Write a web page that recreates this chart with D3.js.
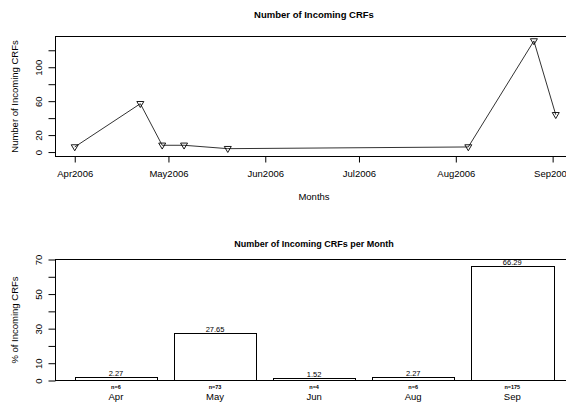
<!DOCTYPE html>
<html>
<head>
<meta charset="utf-8">
<script src="https://cdn.jsdelivr.net/npm/d3@7"></script>
<style>
  html, body { margin: 0; padding: 0; background: #fff; }
  svg { display: block; font-family: "Liberation Sans", Arial, Helvetica, sans-serif; }
</style>
</head>
<body>
<svg id="chart" width="566" height="405"></svg>
<script>
// Incoming CRFs over time (dates of arrival and counts)
const arrivalDates = ["2006-04-01", "2006-04-22", "2006-04-29", "2006-05-06",
                      "2006-05-20", "2006-08-05", "2006-08-26", "2006-09-02"];
const arrivalCounts = [6, 57, 8, 8, 4, 6, 131, 44];
const monthTicks = ["2006-04-01", "2006-05-01", "2006-06-01", "2006-07-01", "2006-08-01", "2006-09-01"];
const countTicks = [0, 20, 40, 60, 80, 100, 120];
const countTickLabels = [0, 20, 60, 100];

// Monthly share of incoming CRFs
const months = ["Apr", "May", "Jun", "Aug", "Sep"];
const monthPct = [2.27, 27.65, 1.52, 2.27, 66.29];
const monthN = [6, 73, 4, 6, 175];
const pctTicks = [0, 10, 20, 30, 40, 50, 60, 70];
const pctTickLabels = [0, 10, 30, 50, 70];

const svg = d3.select("#chart");
const parse = d3.utcParse("%Y-%m-%d");

// ---------- Top panel: line with down-triangle markers ----------
const dates = arrivalDates.map(parse);
const dMin = d3.min(dates), dMax = d3.max(dates);
const pad = (dMax - dMin) * 0.04;
const xTop = d3.scaleUtc()
  .domain([new Date(+dMin - pad), new Date(+dMax + pad)])
  .range([55.5, 575]);
const yMax = d3.max(arrivalCounts);
const yTop = d3.scaleLinear()
  .domain([-0.04 * yMax, yMax * 1.04])
  .range([156.5, 36.5]);

const topPanel = svg.append("g");
topPanel.append("text")
  .attr("x", 314).attr("y", 17.5)
  .attr("text-anchor", "middle")
  .attr("font-weight", "bold").attr("font-size", 9.5)
  .text("Number of Incoming CRFs");

topPanel.append("rect")
  .attr("x", 55.5).attr("y", 36.5)
  .attr("width", 575 - 55.5).attr("height", 156.5 - 36.5)
  .attr("fill", "none").attr("stroke", "#000");

const line = d3.line()
  .x((d, i) => xTop(dates[i]))
  .y(d => yTop(d));
topPanel.append("path")
  .datum(arrivalCounts)
  .attr("d", line)
  .attr("fill", "none").attr("stroke", "#333").attr("stroke-width", 1);

topPanel.selectAll("path.mark")
  .data(arrivalCounts)
  .join("path")
  .attr("class", "mark")
  .attr("transform", (d, i) => `translate(${xTop(dates[i])},${yTop(d)})`)
  .attr("d", "M-3.5,-2.2L3.5,-2.2L0,3.8Z")
  .attr("fill", "none").attr("stroke", "#000").attr("stroke-width", 0.9);

const xAxisTop = topPanel.append("g")
  .attr("transform", "translate(0,156.5)")
  .call(d3.axisBottom(xTop)
    .tickValues(monthTicks.map(parse))
    .tickSize(6)
    .tickFormat(d3.utcFormat("%b%Y")));
xAxisTop.select(".domain").remove();
xAxisTop.selectAll("text").attr("y", 13.5).attr("font-size", 9.5).attr("font-family", null);

const yAxisTop = topPanel.append("g")
  .attr("transform", "translate(55.5,0)")
  .call(d3.axisLeft(yTop)
    .tickValues(countTicks)
    .tickSize(7)
    .tickFormat(d => countTickLabels.includes(d) ? d : ""));
yAxisTop.select(".domain").remove();
yAxisTop.selectAll("text")
  .attr("x", null).attr("dy", null)
  .attr("text-anchor", "middle")
  .attr("transform", "translate(-14,0) rotate(-90)")
  .attr("font-size", 9.5).attr("font-family", null);

topPanel.append("text")
  .attr("transform", `translate(18,${(36.5 + 156.5) / 2}) rotate(-90)`)
  .attr("text-anchor", "middle").attr("font-size", 9.5)
  .text("Number of Incoming CRFs");
topPanel.append("text")
  .attr("x", 314).attr("y", 199.5)
  .attr("text-anchor", "middle").attr("font-size", 9.5)
  .text("Months");

// ---------- Bottom panel: bar chart of monthly percentages ----------
const space = 0.2;
const barLeft = months.map((m, i) => space + i * (1 + space));
const uMin = space, uMax = months.length * (1 + space);
const uPad = (uMax - uMin) * 0.04;
const xBot = d3.scaleLinear().domain([uMin - uPad, uMax + uPad]).range([55.5, 572.7]);
const yBot = d3.scaleLinear().domain([0, 70]).range([380.5, 259.5]);

const botPanel = svg.append("g");
botPanel.append("text")
  .attr("x", 314).attr("y", 246.5)
  .attr("text-anchor", "middle")
  .attr("font-weight", "bold").attr("font-size", 9)
  .text("Number of Incoming CRFs per Month");

botPanel.selectAll("rect.bar")
  .data(monthPct)
  .join("rect")
  .attr("class", "bar")
  .attr("x", (d, i) => Math.round(xBot(barLeft[i])) + 0.5)
  .attr("width", (d, i) => Math.round(xBot(barLeft[i] + 1)) - Math.round(xBot(barLeft[i])))
  .attr("y", d => Math.round(yBot(d)) + 0.5)
  .attr("height", d => yBot(0) - (Math.round(yBot(d)) + 0.5))
  .attr("fill", "#fff").attr("stroke", "#000");

botPanel.append("rect")
  .attr("x", 55.5).attr("y", 259.5)
  .attr("width", 572.7 - 55.5).attr("height", 380.5 - 259.5)
  .attr("fill", "none").attr("stroke", "#000");

botPanel.selectAll("text.val")
  .data(monthPct)
  .join("text")
  .attr("class", "val")
  .attr("x", (d, i) => xBot(barLeft[i] + 0.5))
  .attr("y", d => yBot(d) - 0.5)
  .attr("text-anchor", "middle").attr("font-size", 7.5)
  .text(d => d.toFixed(2));

botPanel.selectAll("text.n")
  .data(monthN)
  .join("text")
  .attr("class", "n")
  .attr("x", (d, i) => xBot(barLeft[i] + 0.5))
  .attr("y", 388.5)
  .attr("text-anchor", "middle").attr("font-size", 5.5).attr("font-weight", "bold")
  .text(d => "n=" + d);

botPanel.selectAll("text.month")
  .data(months)
  .join("text")
  .attr("class", "month")
  .attr("x", (d, i) => xBot(barLeft[i] + 0.5))
  .attr("y", 400)
  .attr("text-anchor", "middle").attr("font-size", 9.5)
  .text(d => d);

const yAxisBot = botPanel.append("g")
  .attr("transform", "translate(55.5,0)")
  .call(d3.axisLeft(yBot)
    .tickValues(pctTicks)
    .tickSize(7)
    .tickFormat(d => pctTickLabels.includes(d) ? d : ""));
yAxisBot.select(".domain").remove();
yAxisBot.selectAll("text")
  .attr("x", null).attr("dy", null)
  .attr("text-anchor", "middle")
  .attr("transform", "translate(-14,0) rotate(-90)")
  .attr("font-size", 9.5).attr("font-family", null);

botPanel.append("text")
  .attr("transform", `translate(18,${(259.5 + 380.5) / 2}) rotate(-90)`)
  .attr("text-anchor", "middle").attr("font-size", 9.5)
  .text("% of Incoming CRFs");
</script>
</body>
</html>
